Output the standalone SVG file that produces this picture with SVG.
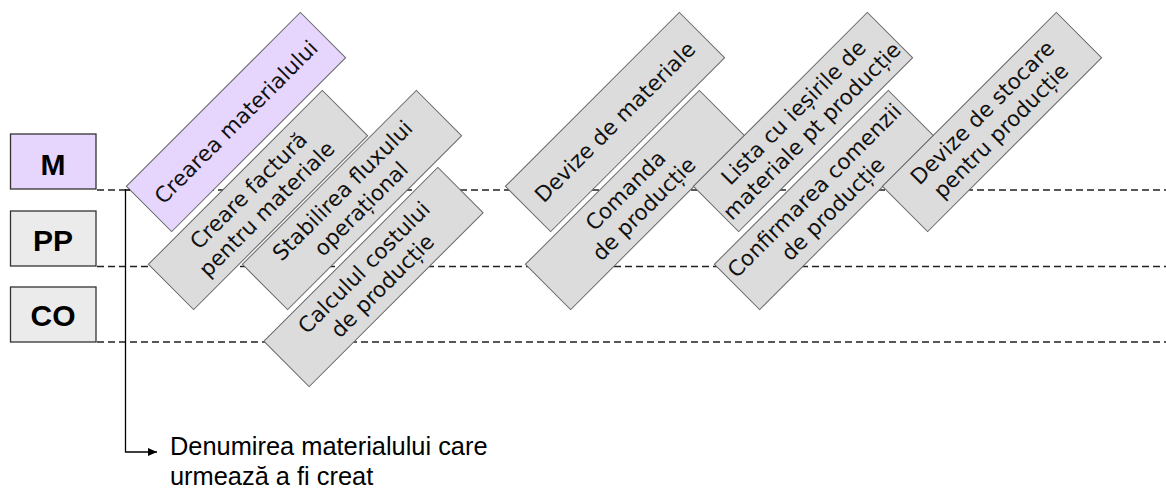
<svg xmlns="http://www.w3.org/2000/svg" width="1166" height="491" viewBox="0 0 1166 491">
<defs>
<marker id="arr" markerWidth="10" markerHeight="8" refX="9" refY="4" orient="auto" markerUnits="userSpaceOnUse">
<path d="M0,0 L9,4 L0,8 z" fill="#000"/>
</marker>
<style>
.lane{stroke:#333;stroke-width:1.3}
.lanep{fill:#e6d5fc}
.laneg{fill:#ebebeb}
.lt{font-family:"Liberation Sans",Arial,sans-serif;font-weight:bold;font-size:30px;fill:#000;text-anchor:middle}
.dash{stroke:#222;stroke-width:1.4;stroke-dasharray:7 4;fill:none}
.box{fill:#dcdcdc;stroke:#666;stroke-width:1}
.boxp{fill:#e6d5fc;stroke:#666;stroke-width:1}
.bt{font-family:"DejaVu Sans",Verdana,sans-serif;font-size:21.5px;fill:#111;text-anchor:middle}
.note{font-family:"Liberation Sans",Arial,sans-serif;font-size:25.4px;fill:#000}
</style>
</defs>
<rect width="1166" height="491" fill="#fff"/>
<g id="lanes-dashes">
<line class="dash" x1="97" y1="190" x2="1166" y2="190"/>
<line class="dash" x1="97" y1="266.5" x2="1166" y2="266.5"/>
<line class="dash" x1="97" y1="342" x2="1166" y2="342"/>
</g>
<g id="lane-M"><rect class="lane lanep" x="10.5" y="134" width="85.5" height="55"/><text class="lt" x="53" y="175">M</text></g>
<g id="lane-PP"><rect class="lane laneg" x="10.5" y="211" width="85.5" height="55"/><text class="lt" x="53" y="251">PP</text></g>
<g id="lane-CO"><rect class="lane laneg" x="10.5" y="287" width="85.5" height="55"/><text class="lt" x="53" y="326">CO</text></g>

<g id="n1" transform="translate(236,122) rotate(-45)"><rect class="boxp" x="-123" y="-32" width="246" height="64"/><text class="bt" y="7.5">Crearea materialului</text></g>
<g id="n2" transform="translate(258,200) rotate(-45)"><rect class="box" x="-123" y="-32" width="246" height="64"/><text class="bt" y="-6"><tspan x="0">Creare factură</tspan><tspan x="0" dy="26">pentru materiale</tspan></text></g>
<g id="n3" transform="translate(352,200) rotate(-45)"><rect class="box" x="-123" y="-32" width="246" height="64"/><text class="bt" y="-6"><tspan x="0">Stabilirea fluxului</tspan><tspan x="0" dy="26">operațional</tspan></text></g>
<g id="n4" transform="translate(373.5,277) rotate(-45)"><rect class="box" x="-123" y="-32" width="246" height="64"/><text class="bt" y="-6"><tspan x="0">Calculul costului</tspan><tspan x="0" dy="26">de producție</tspan></text></g>
<g id="n5" transform="translate(615,122) rotate(-45)"><rect class="box" x="-123" y="-32" width="246" height="64"/><text class="bt" y="7.5">Devize de materiale</text></g>
<g id="n6" transform="translate(635,200) rotate(-45)"><rect class="box" x="-123" y="-32" width="246" height="64"/><text class="bt" y="-6"><tspan x="0">Comanda</tspan><tspan x="0" dy="26">de producție</tspan></text></g>
<g id="n7" transform="translate(803,122) rotate(-45)"><rect class="box" x="-123" y="-32" width="246" height="64"/><text class="bt" y="-6"><tspan x="0">Lista cu ieșirile de</tspan><tspan x="0" dy="26">materiale pt producție</tspan></text></g>
<g id="n8" transform="translate(824,200) rotate(-45)"><rect class="box" x="-123" y="-32" width="246" height="64"/><text class="bt" y="-6"><tspan x="0">Confirmarea comenzii</tspan><tspan x="0" dy="26">de producție</tspan></text></g>
<g id="n9" transform="translate(992,122) rotate(-45)"><rect class="box" x="-123" y="-32" width="246" height="64"/><text class="bt" y="-6"><tspan x="0">Devize de stocare</tspan><tspan x="0" dy="26">pentru producție</tspan></text></g>

<g id="connectors">
<path d="M130,190 H125.5 V452 H157" fill="none" stroke="#000" stroke-width="1.3" marker-end="url(#arr)"/>
</g>
<g id="note">
<text class="note" x="170" y="455">Denumirea materialului care</text>
<text class="note" x="170" y="485">urmează a fi creat</text>
</g>
</svg>
